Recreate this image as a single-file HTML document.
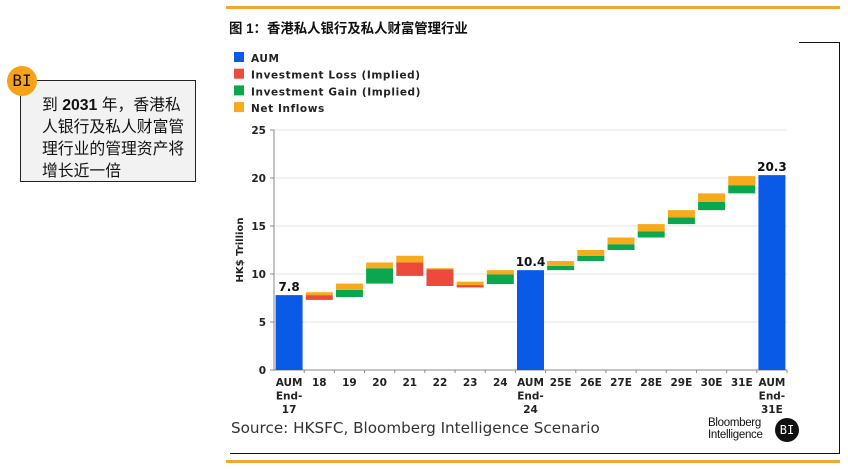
<!DOCTYPE html>
<html><head><meta charset="utf-8"><style>
body{margin:0;width:848px;height:469px;background:#fff;position:relative;overflow:hidden;font-family:"Liberation Sans","Noto Sans CJK SC",sans-serif}
.abs{position:absolute}
</style></head><body>
<div class="abs" style="left:20px;top:80px;width:176px;height:102px;border:1px solid #222;background:#f2f2f2;box-sizing:border-box"></div>
<div class="abs" style="left:7px;top:66px;width:30px;height:30px;border-radius:50%;background:#f7a21b;color:#111;font:16px 'DejaVu Sans Mono',monospace;line-height:30px;text-align:center">BI</div>
<div class="abs" style="left:42px;top:95px;width:160px;font-size:15.8px;line-height:22px;color:#111;font-family:'Liberation Sans','Noto Sans CJK SC',sans-serif">到 <b>2031</b> 年，香港私<br>人银行及私人财富管<br>理行业的管理资产将<br>增长近一倍</div>
<div class="abs" style="left:226px;top:6px;width:614px;height:3px;background:#f0a830"></div>
<div class="abs" style="left:229px;top:17px;font-size:13.4px;font-weight:bold;color:#111">图 1：香港私人银行及私人财富管理行业</div>
<div class="abs" style="left:230px;top:453px;width:610px;height:1px;background:#111"></div>
<div class="abs" style="left:226px;top:460px;width:614px;height:3px;background:#f0a830"></div>
<div class="abs" style="left:799px;top:42px;width:41px;height:1px;background:#111"></div>
<div class="abs" style="left:839px;top:42px;width:1px;height:412px;background:#111"></div>
<div class="abs" style="left:231px;top:419px;color:#333;font-family:'DejaVu Sans',sans-serif;font-size:15.2px">Source: HKSFC, Bloomberg Intelligence Scenario</div>
<div class="abs" style="left:708px;top:417px;font:11.5px/12px 'Liberation Sans',sans-serif;color:#111;letter-spacing:-0.3px">Bloomberg<br>Intelligence</div>
<div class="abs" style="left:775px;top:418px;width:24px;height:24px;border-radius:50%;background:#111;color:#fff;font:12px/24px 'DejaVu Sans Mono',monospace;text-align:center">BI</div>
<svg class="abs" style="left:0;top:0" width="848" height="469" id="chart"></svg>
<script>
const categories=["AUM End-17","18","19","20","21","22","23","24","AUM End-24","25E","26E","27E","28E","29E","30E","31E","AUM End-31E"];
const aumValues=[7.8,null,null,null,null,null,null,null,10.4,null,null,null,null,null,null,null,20.3];
const lossValues=[0,0.5,0,0,1.4,1.75,0.25,0,0,0,0,0,0,0,0,0,0];
const gainValues=[0,0,0.75,1.6,0,0,0,1.0,0,0.45,0.55,0.6,0.65,0.7,0.85,0.85,0];
const inflowValues=[0,0.3,0.65,0.6,0.7,0.1,0.35,0.45,0,0.5,0.6,0.7,0.75,0.75,0.9,0.95,0];
const yTicks=[0,5,10,15,20,25];
const legendItems=["AUM","Investment Loss (Implied)","Investment Gain (Implied)","Net Inflows"];
const colors={aum:"#0a5ae8",loss:"#ec4a3c",gain:"#0ba74f",inflow:"#f7aa1c"};
const ns="http://www.w3.org/2000/svg",svg=document.getElementById('chart');
const X0=274,X1=787,Y0=370,Y1=130,N=17;
const slot=(X1-X0)/N;
function y(v){return Y0-(v/25)*(Y0-Y1);}
function xc(i){return X0+slot*(i+0.5);}
function mk(t,a){const e=document.createElementNS(ns,t);for(const k in a)e.setAttribute(k,a[k]);svg.appendChild(e);return e;}
const lc=[colors.aum,colors.loss,colors.gain,colors.inflow];
legendItems.forEach((s,i)=>{
 const r=mk('rect',{x:234,y:52+i*16.7,width:10,height:10,fill:lc[i]});
 
 
 const t=mk('text',{x:251,y:62+i*16.7,'font-family':'DejaVu Sans, sans-serif','font-size':'10.5','font-weight':'bold','letter-spacing':'0.6',fill:'#222'});
 t.textContent=s;
 
 
});
yTicks.forEach(v=>{
 if(v>0){const g=mk('line',{x1:X0,x2:X1,y1:y(v),y2:y(v),stroke:'#e6e6e6','stroke-width':1});
 
 }
 mk('line',{x1:X0-4,x2:X0,y1:y(v),y2:y(v),stroke:'#888'});
 const t=mk('text',{x:X0-8,y:y(v)+4,'text-anchor':'end','font-family':'DejaVu Sans, sans-serif','font-size':'10.5','font-weight':'bold',fill:'#222'});
 t.textContent=v;
 
 
});
mk('line',{x1:X0,x2:X0,y1:Y1,y2:Y0,stroke:'#888'});
mk('line',{x1:X0,x2:X1,y1:Y0,y2:Y0,stroke:'#888'});
const yt=mk('text',{x:0,y:0,transform:'translate(243,250) rotate(-90)','text-anchor':'middle','font-family':'DejaVu Sans, sans-serif','font-size':'10','font-weight':'bold',fill:'#222'});
yt.textContent='HK$ Trillion';


const bw=27;let level=0;
categories.forEach((c,i)=>{
 const cx=xc(i),x=cx-bw/2;
 mk('line',{x1:X0+slot*(i+1),x2:X0+slot*(i+1),y1:Y0,y2:Y0+3,stroke:'#888'});
 if(aumValues[i]!=null){
  level=aumValues[i];
  const r=mk('rect',{x:x,y:y(level),width:bw,height:Y0-y(level),fill:colors.aum});
  
  
  const t=mk('text',{x:cx,y:y(level)-4,'text-anchor':'middle','font-family':'DejaVu Sans, sans-serif','font-size':'12','font-weight':'bold',fill:'#111'});
  t.textContent=level.toFixed(1);
  
  
 } else {
  const S=level,L=lossValues[i],G=gainValues[i],Nn=inflowValues[i];
  if(L>0){const r=mk('rect',{x:x,y:y(S),width:bw,height:y(S-L)-y(S),fill:colors.loss});
   
   }
  if(G>0){const r=mk('rect',{x:x,y:y(S+G),width:bw,height:y(S)-y(S+G),fill:colors.gain});
   
   }
  if(Nn>0){const r=mk('rect',{x:x,y:y(S+G+Nn),width:bw,height:y(S+G)-y(S+G+Nn),fill:colors.inflow});
   
   }
  level=S-L+G+Nn;
 }
 const parts=c.startsWith('AUM')?["AUM","End-",c.slice(8)]:[c];
 parts.forEach((p,k)=>{
  const t=mk('text',{x:cx,y:386+k*13.5,'text-anchor':'middle','font-family':'DejaVu Sans, sans-serif','font-size':'10.5','font-weight':'bold',fill:'#222'});
  t.textContent=p;
  
  
 });
});
</script>
</body></html>
